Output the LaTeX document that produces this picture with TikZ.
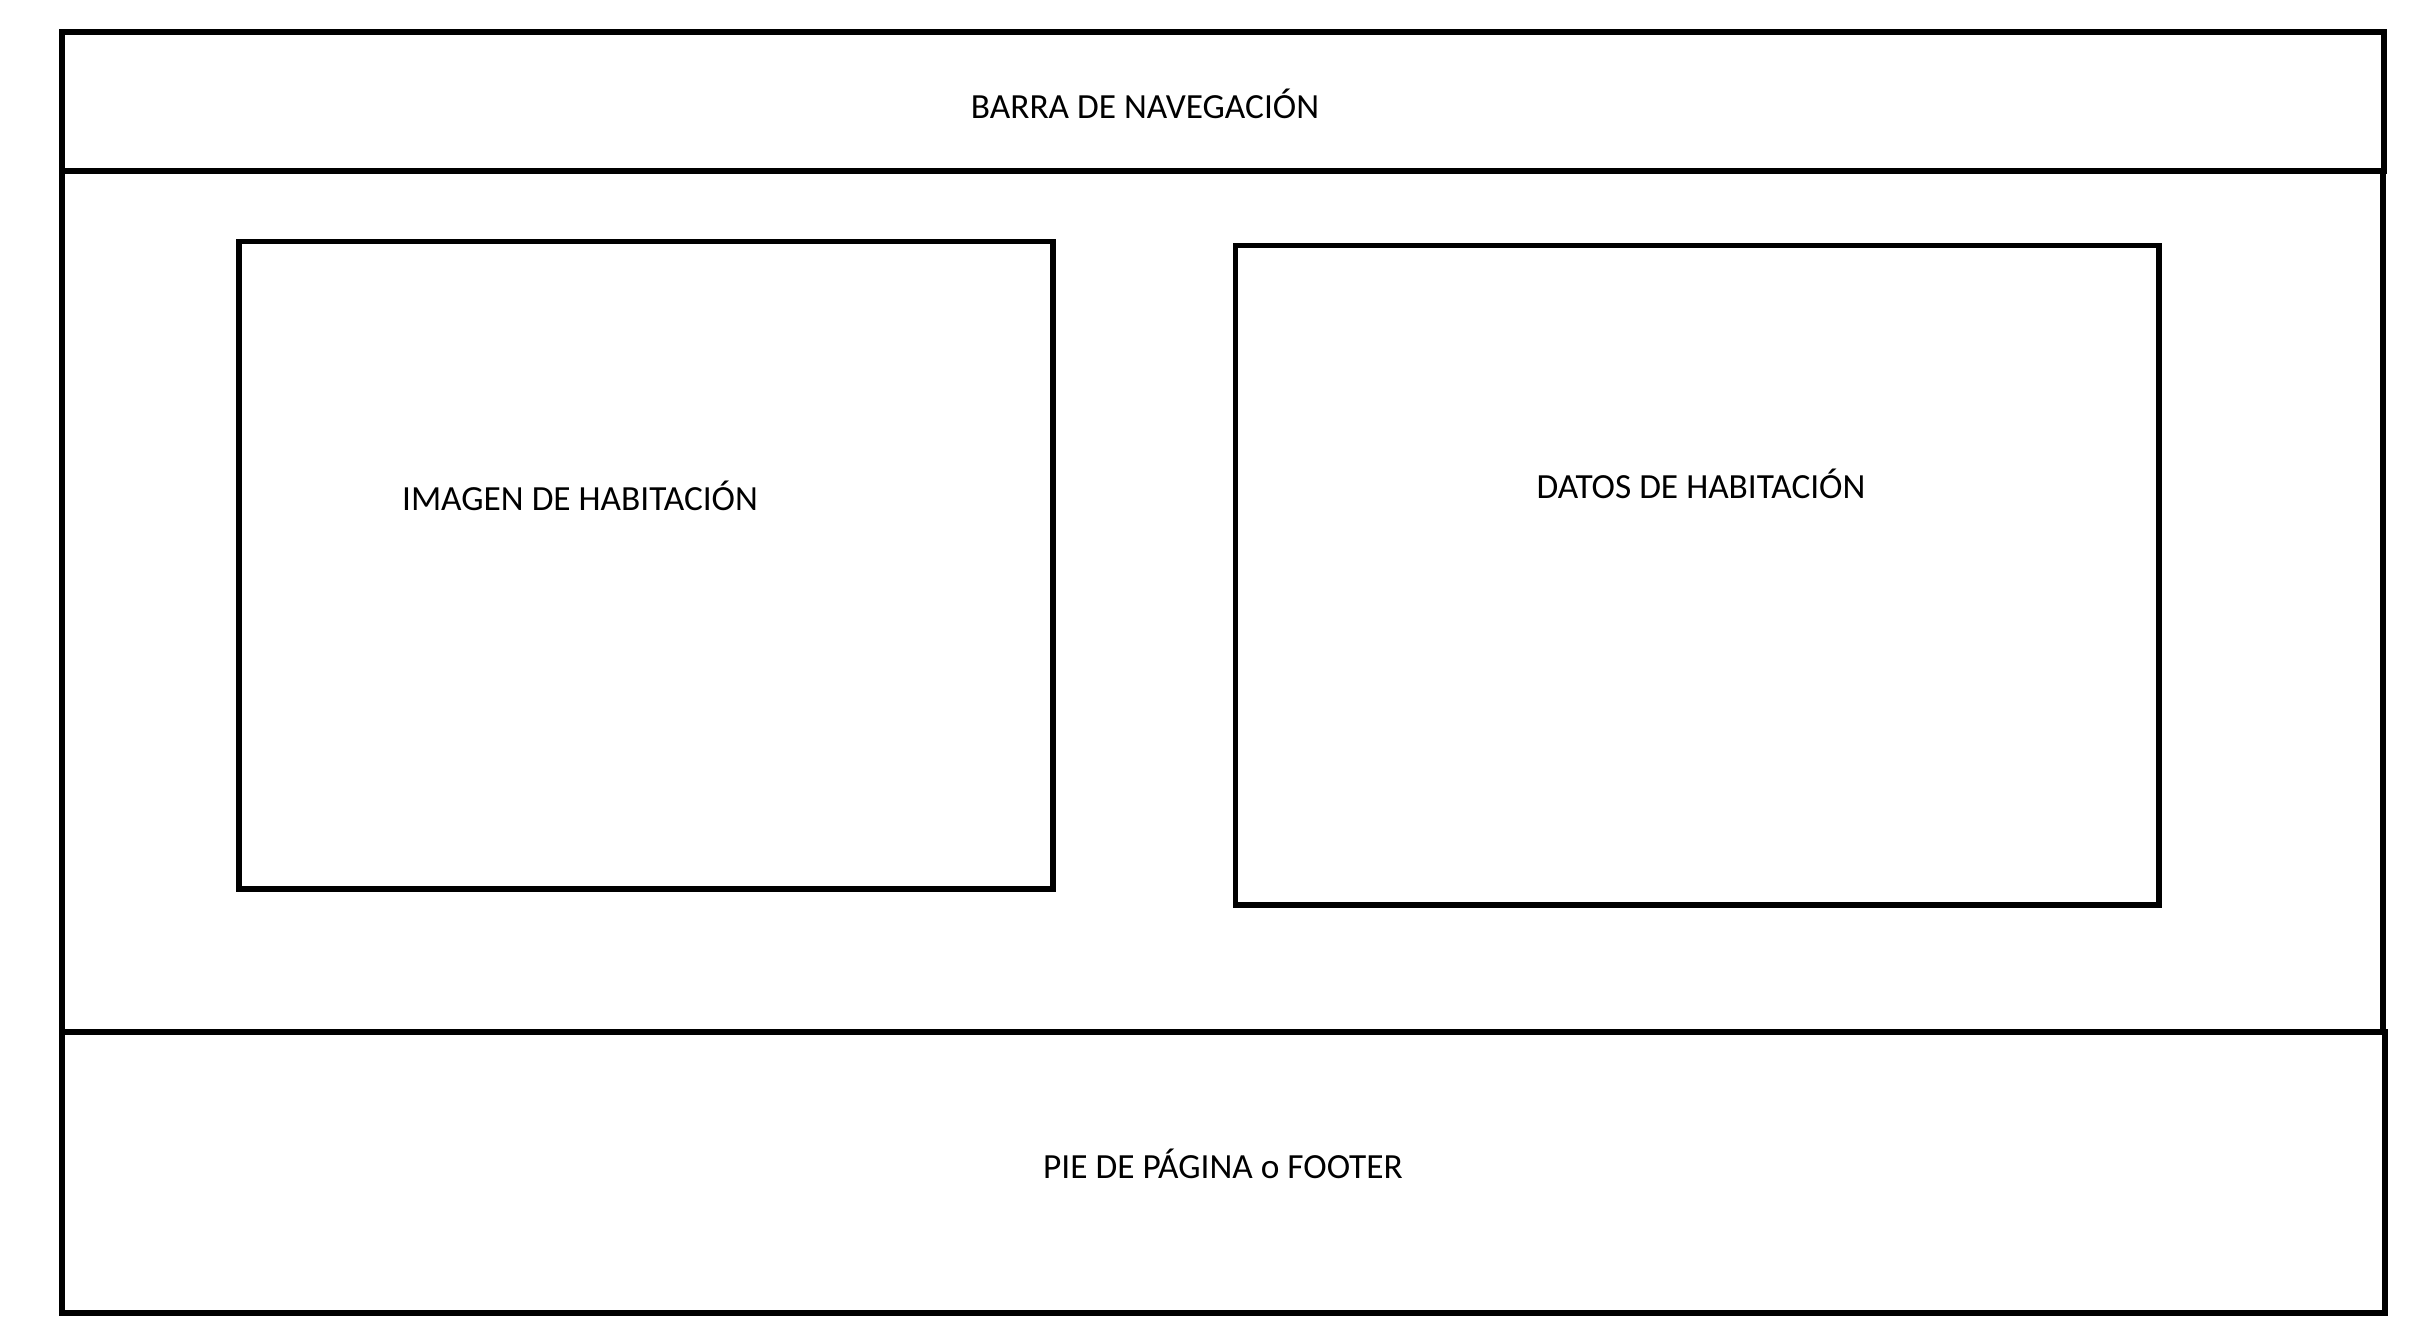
\documentclass[tikz,border=0pt]{standalone}
\usepackage{fontspec}
\setmainfont{Carlito}
\begin{document}
\begin{tikzpicture}[x=0.3pt,y=-0.3pt,
  frame/.style={draw=black,line width=1.6pt},
  label/.style={anchor=base,inner sep=0pt,font=\fontsize{10.6pt}{12pt}\selectfont}]
\useasboundingbox (0,0) rectangle (2422,1326);
% outer parts
\draw[frame] (62,171) rectangle (2383,1032);
\draw[frame] (62,32) rectangle (2384,171);
\draw[frame] (62,1032) rectangle (2385,1313);
% inner boxes
\draw[frame] (239,241.5) rectangle (1053,889);
\draw[frame] (1235.5,245.5) rectangle (2159,905);
% labels
\node[label] (nav) at (1145,118) {BARRA DE NAVEGACIÓN};
\node[label] (img) at (580,510) {IMAGEN DE HABITACIÓN};
\node[label] (dat) at (1701,498) {DATOS DE HABITACIÓN};
\node[label] (foot) at (1223,1178) {PIE DE PÁGINA o FOOTER};
\end{tikzpicture}
\end{document}
